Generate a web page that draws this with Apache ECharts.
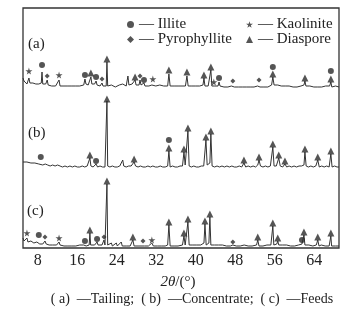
<!DOCTYPE html>
<html><head><meta charset="utf-8">
<script src="https://cdn.jsdelivr.net/npm/echarts@6/dist/echarts.min.js"></script>
<style>html,body{margin:0;padding:0;background:#fff}#c{width:356px;height:311px}</style>
</head><body><div id="c"></div>
<script>
// 2θ ticks
const xTicks = [8, 16, 24, 32, 40, 48, 56, 64];
// vertical offsets of the three patterns
const offsets = { a: 160, b: 80, c: 0 };
// (a) Tailing  [2θ, intensity]
const traceA = [[5.0,10],[5.2,7],[5.5,5],[5.8,4],[6.0,6],[6.2,10],[6.4,5],[6.7,4],[7.0,5],[7.3,3],[7.6,4],[7.9,3],[8.2,4],[8.5,3],[8.7,5],[8.85,16],[9.0,4],[9.3,3],[9.6,4],[9.9,8],[10.1,3],[10.4,4],[10.8,2],[11.2,3],[11.6,2],[12.0,3],[12.3,8],[12.5,2],[12.9,3],[13.3,2],[13.7,1],[14.1,2],[14.5,1],[14.9,2],[15.3,1],[15.7,2],[16.1,1],[16.5,2],[16.9,3],[17.3,3],[17.55,9],[17.75,4],[18.0,5],[18.2,3],[18.5,4],[18.75,11],[18.95,4],[19.2,3],[19.5,4],[19.8,7],[20.0,3],[20.3,4],[20.6,2],[20.8,3],[21.0,5],[21.2,2],[21.5,3],[21.85,2],[22.0,26],[22.15,2],[22.5,1],[22.9,3],[23.1,5],[23.3,2],[23.7,1],[24.1,2],[24.5,3],[24.8,1],[25.2,4],[25.5,2],[25.9,2],[26.1,3],[26.25,12],[26.45,3],[26.8,2],[27.1,4],[27.3,3],[27.5,5],[27.7,8],[27.9,3],[28.2,2],[28.5,3],[28.7,8],[28.9,3],[29.2,4],[29.5,5],[29.7,2],[30.1,1],[30.5,2],[30.9,1],[31.1,3],[31.3,5],[31.5,1],[31.9,2],[32.3,1],[32.7,3],[33.1,1],[33.5,2],[33.9,1],[34.3,2],[34.55,14],[34.8,2],[35.2,1],[35.6,2],[36.0,1],[36.4,2],[36.8,1],[37.2,2],[37.6,3],[37.9,2],[38.2,12],[38.45,2],[38.8,1],[39.2,2],[39.6,1],[40.0,2],[40.4,1],[40.8,2],[41.2,2],[41.45,3],[41.65,10],[41.85,2],[42.2,3],[42.5,2],[42.85,4],[43.05,18],[43.25,2],[43.45,3],[43.65,4],[43.85,2],[44.2,3],[44.5,2],[44.7,6],[44.9,2],[45.3,3],[45.7,1],[46.1,2],[46.5,1],[46.9,2],[47.2,2],[47.5,4],[47.8,1],[48.2,2],[48.6,1],[49.0,2],[49.4,1],[49.8,2],[50.2,1],[50.6,2],[51.0,1],[51.4,2],[51.8,1],[52.2,2],[52.5,2],[52.8,4],[53.0,1],[53.4,2],[53.8,1],[54.2,2],[54.6,1],[55.0,2],[55.35,3],[55.6,11],[55.85,3],[56.2,2],[56.6,3],[56.9,1],[57.3,2],[57.7,1],[58.1,2],[58.5,1],[58.9,2],[59.3,1],[59.7,1],[60.1,2],[60.5,1],[60.9,1],[61.3,2],[61.7,2],[61.9,3],[62.1,7],[62.3,2],[62.7,1],[63.1,2],[63.5,1],[63.9,1],[64.3,2],[64.7,1],[65.1,2],[65.5,1],[65.9,1],[66.3,2],[66.7,1],[67.1,2],[67.35,6],[67.55,1],[67.9,1],[68.3,2],[68.7,1],[69.0,1]];
// (b) Concentrate
const traceB = [[5.0,6],[5.4,5],[5.8,6],[6.2,4],[6.6,5],[7.0,4],[7.4,5],[7.8,3],[8.2,4],[8.6,6],[9.0,3],[9.5,4],[10.0,3],[10.5,2],[11.0,3],[11.5,2],[12.0,3],[12.5,2],[13.0,1],[13.5,2],[14.0,1],[14.5,2],[15.0,1],[15.5,2],[16.0,1],[16.5,1],[17.0,2],[17.5,1],[18.0,2],[18.35,2],[18.55,10],[18.75,2],[19.2,1],[19.5,2],[19.8,4],[20.1,1],[20.6,2],[21.1,1],[21.6,1],[21.85,2],[22.0,67],[22.15,2],[22.6,1],[23.1,2],[23.6,1],[24.1,1],[24.6,2],[25.0,2],[25.2,8],[25.4,2],[25.9,1],[26.4,2],[26.9,2],[27.2,3],[27.5,6],[27.8,2],[28.3,1],[28.8,2],[29.3,1],[29.8,1],[30.3,2],[30.8,1],[31.3,2],[31.8,1],[32.3,1],[32.8,2],[33.3,1],[33.8,1],[34.3,2],[34.55,17],[34.8,1],[35.3,2],[35.8,1],[36.3,1],[36.8,2],[37.3,2],[37.6,16],[37.85,3],[38.1,3],[38.4,37],[38.65,2],[39.1,1],[39.6,2],[40.1,1],[40.6,1],[41.1,2],[41.6,2],[41.85,4],[42.05,28],[42.3,3],[42.6,2],[42.85,5],[43.05,34],[43.3,2],[43.8,1],[44.3,2],[44.8,1],[45.3,2],[45.8,1],[46.3,2],[46.8,1],[47.3,2],[47.8,1],[48.3,1],[48.8,2],[49.3,1],[49.75,5],[50.1,1],[50.6,2],[51.1,1],[51.6,2],[52.1,1],[52.55,3],[52.8,8],[53.1,2],[53.6,1],[54.1,2],[54.6,1],[55.1,2],[55.35,3],[55.6,21],[55.85,2],[56.3,2],[56.6,3],[56.8,10],[57.1,2],[57.6,1],[58.05,4],[58.4,1],[58.9,2],[59.4,1],[59.9,2],[60.4,1],[60.9,2],[61.4,2],[61.9,3],[62.1,16],[62.35,2],[62.8,1],[63.3,2],[63.8,1],[64.3,2],[64.7,8],[65.0,1],[65.5,2],[66.0,1],[66.5,2],[67.0,1],[67.35,14],[67.6,1],[68.1,2],[68.6,1],[69.0,1]];
// (c) Feeds
const traceC = [[5.0,10],[5.2,7],[5.4,9],[5.6,6],[5.8,10],[6.0,6],[6.2,8],[6.4,5],[6.6,7],[6.8,5],[7.0,7],[7.2,5],[7.4,6],[7.6,4],[7.8,6],[8.0,5],[8.2,8],[8.4,4],[8.7,5],[9.0,4],[9.2,5],[9.45,7],[9.7,4],[10.0,5],[10.3,3],[10.6,4],[11.0,3],[11.4,4],[11.8,3],[12.1,4],[12.3,6],[12.5,3],[12.9,3],[13.3,2],[13.7,3],[14.1,2],[14.5,3],[14.9,2],[15.3,3],[15.7,2],[16.1,2],[16.5,3],[16.9,2],[17.3,3],[17.55,4],[17.8,2],[18.2,3],[18.4,3],[18.55,15],[18.7,3],[19.1,2],[19.5,3],[19.8,4],[20.0,6],[20.2,3],[20.6,2],[21.0,3],[21.2,4],[21.4,8],[21.6,3],[21.85,3],[22.0,64],[22.15,3],[22.5,2],[22.9,5],[23.1,2],[23.5,3],[23.9,5],[24.1,2],[24.5,3],[24.9,6],[25.1,2],[25.5,3],[25.9,2],[26.3,3],[26.7,2],[27.0,3],[27.25,8],[27.5,2],[27.9,3],[28.3,2],[28.7,3],[29.1,2],[29.3,4],[29.6,2],[30.0,3],[30.4,2],[30.8,3],[31.1,5],[31.4,2],[31.8,3],[32.2,2],[32.6,3],[33.0,2],[33.4,3],[33.8,2],[34.3,3],[34.55,23],[34.8,2],[35.2,3],[35.6,2],[36.0,3],[36.4,2],[36.8,3],[37.3,3],[37.6,12],[37.85,3],[38.1,4],[38.4,26],[38.65,3],[39.0,2],[39.4,3],[39.8,2],[40.2,3],[40.6,2],[41.0,3],[41.4,3],[41.65,5],[41.85,24],[42.1,3],[42.5,3],[42.65,5],[42.85,31],[43.05,3],[43.4,2],[43.8,3],[44.2,2],[44.6,3],[45.0,2],[45.4,3],[45.8,2],[46.2,2],[46.6,3],[47.0,2],[47.5,3],[47.8,2],[48.2,2],[48.6,3],[49.0,2],[49.4,2],[49.8,3],[50.2,2],[50.6,2],[51.0,3],[51.4,2],[51.8,2],[52.3,3],[52.55,8],[52.8,2],[53.2,3],[53.6,2],[54.0,2],[54.4,3],[54.8,2],[55.2,3],[55.4,4],[55.6,22],[55.8,3],[56.2,3],[56.4,4],[56.6,7],[56.8,3],[57.2,2],[57.6,3],[58.0,2],[58.4,3],[58.8,2],[59.2,2],[59.6,3],[60.0,2],[60.4,2],[60.8,3],[61.2,2],[61.5,4],[61.7,3],[61.9,13],[62.1,3],[62.5,2],[62.9,3],[63.3,2],[63.7,2],[64.1,3],[64.4,3],[64.7,8],[64.95,2],[65.4,3],[65.8,2],[66.2,2],[66.6,3],[67.0,2],[67.2,3],[67.35,12],[67.5,2],[67.9,3],[68.3,2],[68.7,2],[69.0,2]];
// phase markers [2θ, plotted height]
const illite = [[8.85,183],[17.55,173],[19.8,171],[29.5,168],[44.7,170],[55.6,181],[67.35,177],
  [8.6,91],[19.8,87],[34.55,108],
  [8.2,13],[17.55,7],[20.0,9],[61.5,8]];
const pyrophyllite = [[9.9,172],[21.0,169],[28.7,172],[47.5,167],[52.8,168],
  [9.45,11],[21.4,11],[29.3,7],[47.5,6]];
const kaolinite = [[6.2,177],[12.3,173],[31.3,169],[43.65,166],
  [5.8,15],[12.3,10],[31.1,8]];
const diaspore = [[18.75,175],[22.0,189],[27.7,171],[34.55,178],[38.2,176],[41.65,173],[43.05,181],[55.6,174],[62.1,170],[67.35,169],
  [18.55,93],[22.0,149],[27.5,89],[34.55,100],[37.6,99],[38.4,120],[42.05,111],[43.05,117],[49.75,88],[52.8,91],[55.6,104],[56.8,93],[58.05,87],[62.1,99],[64.7,91],[67.35,97],
  [18.55,18],[22.0,67],[27.25,11],[34.55,26],[37.6,15],[38.4,29],[41.85,27],[42.85,34],[52.55,11],[55.6,25],[56.6,10],[61.9,16],[64.7,11],[67.35,15]];

const SERIF = "'Liberation Serif', 'DejaVu Serif', serif";
const INK = '#2a2a2a';
const STAR = 'path://M50,0 L61,35 L98,35 L68,57 L79,91 L50,70 L21,91 L32,57 L2,35 L39,35 Z';

function shift(arr, off) { return arr.map(p => [p[0], p[1] + off]); }
function lineSeries(name, arr, off) {
  return { name, type: 'line', data: shift(arr, off), symbol: 'none', silent: true,
    lineStyle: { color: '#333', width: 1 }, z: 2 };
}
function markSeries(name, arr, symbol, size) {
  return { name, type: 'scatter', data: arr, symbol, symbolSize: size, silent: true,
    itemStyle: { color: INK }, z: 3 };
}
const legendText = { fontFamily: SERIF, fontSize: 15, color: '#222', lineHeight: 14 };

const chart = echarts.init(document.getElementById('c'));
chart.setOption({
  animation: false,
  grid: { left: 23, top: 8, width: 316, height: 240, show: true, borderColor: '#333', borderWidth: 1.3, backgroundColor: 'transparent' },
  xAxis: { type: 'value', min: 5, max: 69,
    axisLine: { show: false }, splitLine: { show: false },
    axisTick: { show: false, customValues: xTicks },
    axisLabel: { customValues: xTicks, color: '#222', fontFamily: SERIF, fontSize: 16, margin: 5 } },
  yAxis: { type: 'value', min: 0, max: 240, show: false },
  legend: [
    { left: 127, top: 17, padding: 0, orient: 'vertical', itemGap: 0, itemWidth: 7, itemHeight: 7,
      data: ['Illite', 'Pyrophyllite'], formatter: '— {name}', selectedMode: false, textStyle: legendText },
    { left: 246, top: 17, padding: 0, orient: 'vertical', itemGap: 0, itemWidth: 7, itemHeight: 7,
      data: ['Kaolinite', 'Diaspore'], formatter: '— {name}', selectedMode: false, textStyle: legendText }
  ],
  graphic: [
    { type: 'text', left: 28, top: 37, style: { text: '(a)', font: '15px ' + SERIF, fill: '#222' } },
    { type: 'text', left: 28, top: 126, style: { text: '(b)', font: '15px ' + SERIF, fill: '#222' } },
    { type: 'text', left: 27, top: 204, style: { text: '(c)', font: '15px ' + SERIF, fill: '#222' } },
    { type: 'text', x: 178, y: 282, style: { text: '{i|2θ}/(°)', align: 'center', verticalAlign: 'middle',
        font: '15px ' + SERIF, fill: '#222', rich: { i: { fontStyle: 'italic', fontFamily: SERIF, fontSize: 15 } } } },
    { type: 'text', x: 192, y: 299, style: { text: '( a)  —Tailing;  ( b)  —Concentrate;  ( c)  —Feeds', align: 'center', verticalAlign: 'middle',
        font: '14px ' + SERIF, fill: '#222' } }
  ],
  series: [
    lineSeries('a', traceA, offsets.a),
    lineSeries('b', traceB, offsets.b),
    lineSeries('c', traceC, offsets.c),
    markSeries('Illite', illite, 'circle', 6),
    markSeries('Pyrophyllite', pyrophyllite, 'diamond', 5),
    markSeries('Kaolinite', kaolinite, STAR, 7),
    markSeries('Diaspore', diaspore, 'triangle', 7)
  ]
});
</script></body></html>
